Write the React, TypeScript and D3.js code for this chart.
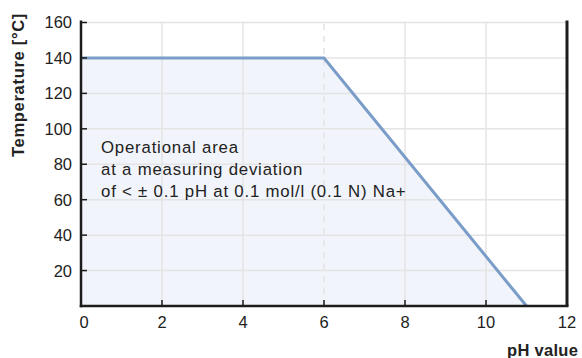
import React from 'react';
import * as d3 from 'd3';

// operating limit curve: pH -> max temperature
const phValues = [0, 6, 11];
const tempValues = [140, 140, 0];
const xTicks = [0, 2, 4, 6, 8, 10, 12];
const yTicks = [20, 40, 60, 80, 100, 120, 140, 160];
const noteLines = [
  'Operational area',
  'at a measuring deviation',
  'of < ± 0.1 pH at 0.1 mol/l (0.1 N) Na+',
];

const W = 582;
const H = 358;
const font = '"Liberation Sans", Arial, Helvetica, sans-serif';
const lineColor = '#7a9cc8';
const fillColor = '#f1f4fa';
const gridColor = '#e4e4e4';
const axisColor = '#1c1c1c';
const textColor = '#222';

export default function App() {
  const x = d3.scaleLinear().domain([0, 12]).range([81, 567]);
  const y = d3.scaleLinear().domain([0, 160]).range([306, 22.5]);

  const pts: [number, number][] = phValues.map((p, i) => [p, tempValues[i]]);
  const line = d3.line<[number, number]>()
    .x(d => x(d[0]))
    .y(d => y(d[1]));
  const area = d3.area<[number, number]>()
    .x(d => x(d[0]))
    .y0(y(0))
    .y1(d => y(d[1]));

  return (
    <svg width={W} height={H} style={{ position: 'absolute', left: 0, top: 0 }} fontFamily={font}>
      <rect width={W} height={H} fill="#fff" />
      {/* fill */}
      <path d={area(pts) || ''} fill={fillColor} />

      {/* grid */}
      {yTicks.map(t => (
        <line key={'gy' + t} x1={x(0)} x2={x(12)} y1={y(t)} y2={y(t)} stroke={gridColor} strokeWidth={1.5} />
      ))}
      {xTicks.filter(t => t > 0 && t < 12).map(t => (
        <line key={'gx' + t} x1={x(t)} x2={x(t)} y1={y(0)} y2={y(160)}
          stroke={gridColor} strokeWidth={1.5}
          strokeDasharray={t === 6 ? '6,6' : undefined} />
      ))}

      {/* curve */}
      <path d={line(pts) || ''} fill="none" stroke={lineColor} strokeWidth={3} strokeLinejoin="miter" />

      {/* axes */}
      <line x1={x(0)} x2={x(0)} y1={y(160) - 2} y2={y(0) + 1.25} stroke={axisColor} strokeWidth={2.5} />
      <line x1={x(0) - 1.25} x2={x(12) + 1.5} y1={y(0)} y2={y(0)} stroke={axisColor} strokeWidth={2.5} />
      <line x1={x(12)} x2={x(12)} y1={y(160) - 2} y2={y(0)} stroke={axisColor} strokeWidth={3} />

      {/* ticks */}
      {yTicks.map(t => (
        <g key={'ty' + t}>
          <line x1={x(0)} x2={x(0) + 6} y1={y(t)} y2={y(t)} stroke={axisColor} strokeWidth={1.5} />
          <text x={72} y={y(t)} dy="0.36em" textAnchor="end" fontSize={16.5} fill={textColor}>{t}</text>
        </g>
      ))}
      {xTicks.map(t => (
        <g key={'tx' + t}>
          {t > 0 && t < 12 && (
            <line x1={x(t)} x2={x(t)} y1={y(0)} y2={y(0) - 6} stroke={axisColor} strokeWidth={1.5} />
          )}
          <text x={x(t) + (t === 0 ? 3 : 0)} y={327.5} textAnchor="middle" fontSize={16.5} fill={textColor}>{t}</text>
        </g>
      ))}

      {/* labels */}
      <text transform="translate(24,13) rotate(-90)" textAnchor="end" fontSize={16.5} fontWeight="bold"
        letterSpacing={0.7} fill={textColor}>
        Temperature [°C]
      </text>
      <text x={507} y={355.5} fontSize={16.5} fontWeight="bold" letterSpacing={0.3} fill={textColor}>pH value</text>

      {noteLines.map((s, i) => (
        <text key={i} x={101} y={152.7 + i * 22} fontSize={16.8} letterSpacing={0.8} fill={textColor}>{s}</text>
      ))}
    </svg>
  );
}
